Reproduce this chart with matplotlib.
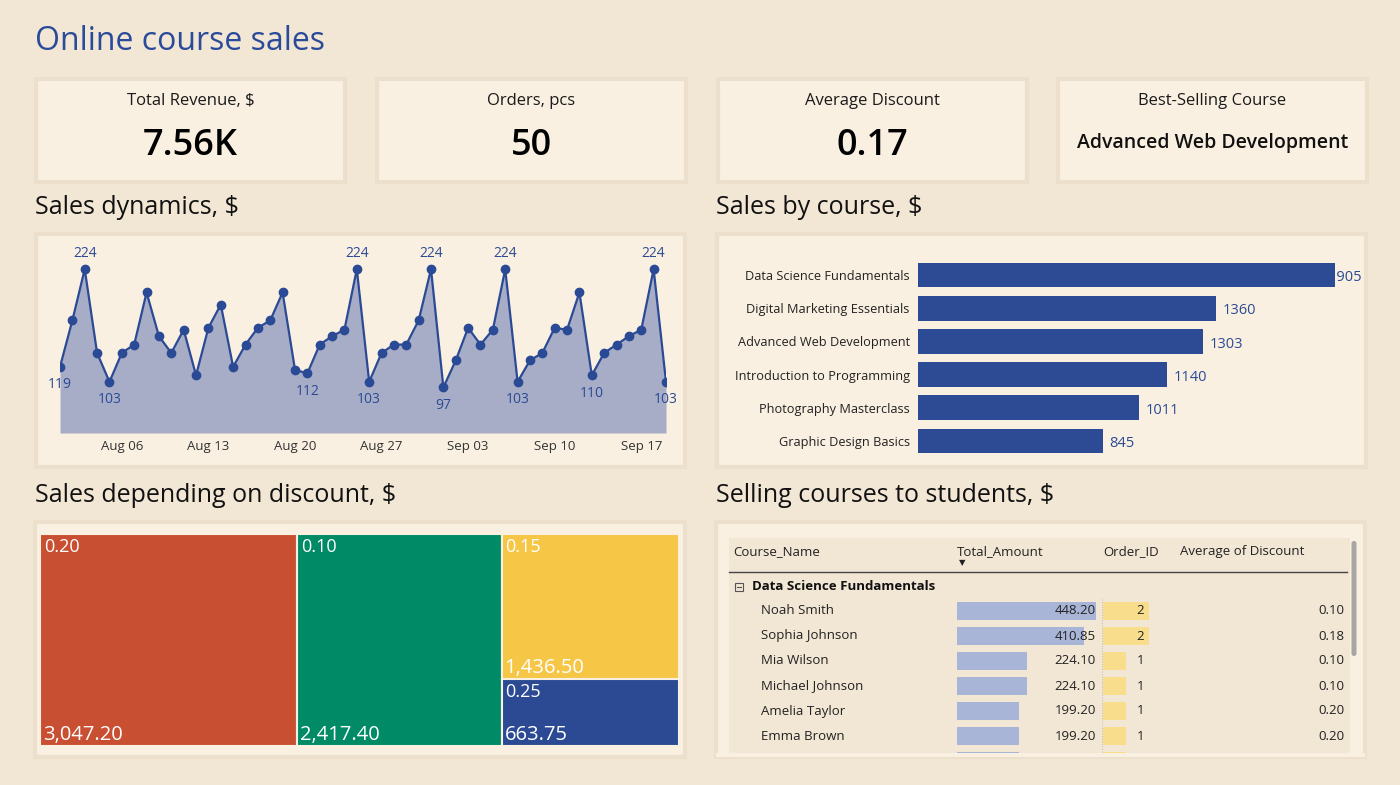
import numpy as np
import pandas as pd
import matplotlib
matplotlib.use("Agg")
import matplotlib.pyplot as plt
import matplotlib.dates as mdates
from matplotlib.patches import Rectangle, FancyBboxPatch

plt.rcParams['font.family'] = ['Open Sans', 'DejaVu Sans']

# ---- data ----
kpi_titles = ['Total Revenue, $', 'Orders, pcs', 'Average Discount', 'Best-Selling Course']
kpi_values = ['7.56K', '50', '0.17', 'Advanced Web Development']

dates = pd.date_range('2023-08-01', '2023-09-19', freq='D')
daily_sales = [119, 169, 224, 134, 103, 134, 143, 199, 152, 134,
               159, 110, 161, 186, 119, 143, 161, 169, 199, 116,
               112, 143, 152, 159, 224, 103, 134, 143, 143, 169,
               224, 97, 126, 161, 143, 159, 224, 103, 126, 134,
               161, 159, 199, 110, 134, 143, 152, 159, 224, 103]
labelled_days = [0, 2, 4, 20, 24, 25, 30, 31, 36, 37, 43, 48, 49]

courses = ['Data Science Fundamentals', 'Digital Marketing Essentials', 'Advanced Web Development',
           'Introduction to Programming', 'Photography Masterclass', 'Graphic Design Basics']
course_sales = [1905, 1360, 1303, 1140, 1011, 845]

discounts = ['0.20', '0.10', '0.15', '0.25']
discount_sales = [3047.20, 2417.40, 1436.50, 663.75]

table_group = 'Data Science Fundamentals'
students = ['Noah Smith', 'Sophia Johnson', 'Mia Wilson', 'Michael Johnson', 'Amelia Taylor', 'Emma Brown']
amounts = [448.20, 410.85, 224.10, 224.10, 199.20, 199.20, 199.20]
order_counts = [2, 2, 1, 1, 1, 1, 1]
avg_discount = [0.10, 0.18, 0.10, 0.10, 0.20, 0.20]

# ---- colours ----
BG = '#F2E6D5'
PANEL = '#F9F0E1'
EDGE = '#ECE0CD'
BLUE = '#2B4A95'
TITLE_BLUE = '#2A4A9A'
TM_COLORS = ['#C94F32', '#008A66', '#F6C646', '#2C4A93']

W, H = 1400, 785
fig = plt.figure(figsize=(W / 100, H / 100), dpi=100, facecolor=BG)

canvas = fig.add_axes([0, 0, 1, 1])
canvas.set_xlim(0, W)
canvas.set_ylim(H, 0)
canvas.axis('off')
canvas.set_zorder(0)


def px_axes(x0, y0, x1, y1):
    ax = fig.add_axes([x0 / W, 1 - y1 / H, (x1 - x0) / W, (y1 - y0) / H])
    ax.set_facecolor('none')
    ax.set_zorder(2)
    return ax


def panel(x0, y0, x1, y1):
    canvas.add_patch(Rectangle((x0, y0), x1 - x0, y1 - y0, facecolor=PANEL,
                               edgecolor=EDGE, linewidth=3))


# title
canvas.text(35, 41, 'Online course sales', color=TITLE_BLUE, fontsize=23, va='center', ha='left')

# KPI cards
kpi_boxes = [(36, 79, 345, 182), (377, 79, 686, 182), (718, 79, 1027, 182), (1058, 79, 1367, 182)]
for (x0, y0, x1, y1), t, v in zip(kpi_boxes, kpi_titles, kpi_values):
    panel(x0, y0, x1, y1)
    cx = (x0 + x1) / 2
    canvas.text(cx, 101, t, fontsize=12, ha='center', va='center', color='#1a1a1a')
    if len(v) > 8:
        canvas.text(cx, 143, v, fontsize=14, ha='center', va='center', weight='semibold', color='#111')
    else:
        canvas.text(cx, 146, v, fontsize=26, ha='center', va='center', weight='semibold', color='#000')

# section titles
for x, y, t in [(35, 208, 'Sales dynamics, $'), (716, 208, 'Sales by course, $'),
                (35, 495, 'Sales depending on discount, $'), (716, 495, 'Selling courses to students, $')]:
    canvas.text(x, y, t, fontsize=18, ha='left', va='center', color='#111')

# ---- line chart ----
panel(36, 234, 685, 467)
ax = px_axes(60, 245, 666, 433)
ax.fill_between(dates, daily_sales, 48, color='#A7ADC6', linewidth=0)
ax.plot(dates, daily_sales, color=BLUE, linewidth=1.6, marker='o', markersize=6)
for i in labelled_days:
    up = daily_sales[i] >= 200
    ax.annotate(str(daily_sales[i]), (dates[i], daily_sales[i]),
                xytext=(0, 11 if up else -13), textcoords='offset points',
                ha='center', va='center', fontsize=10, color=BLUE)
ax.set_xlim(dates[0], dates[-1])
ax.set_ylim(48, 250)
ax.xaxis.set_major_locator(mdates.WeekdayLocator(byweekday=mdates.SU))
ax.xaxis.set_major_formatter(mdates.DateFormatter('%b %d'))
ax.tick_params(axis='x', length=0, pad=5, labelsize=9.5, labelcolor='#333')
ax.set_yticks([])
for s in ax.spines.values():
    s.set_visible(False)

# ---- bar chart ----
panel(717, 234, 1366, 467)
bx = px_axes(918, 258.4, 1366, 457.6)
yy = np.arange(len(courses))
bx.barh(yy, course_sales, height=0.75, color='#2D4A94', zorder=3)
bx.set_xlim(0, 2047)
bx.set_ylim(len(courses) - 0.5, -0.5)
for i, v in enumerate(course_sales):
    # labels sit behind the bars, the top one slides back under its bar
    bx.text(min(v + 30, 1877), i + 0.08, str(v), ha='left', va='center', fontsize=10.5,
            color=BLUE, weight='medium', zorder=2)
bx.set_yticks(yy)
bx.set_yticklabels(courses)
bx.tick_params(axis='y', length=0, pad=6, labelsize=9.2, labelcolor='#222')
bx.set_xticks([])
for s in bx.spines.values():
    s.set_visible(False)

# ---- treemap ----
panel(35, 522, 685, 757)
tx = px_axes(40, 534, 679, 746)
tw, th = 639.0, 212.0
tx.set_xlim(0, tw)
tx.set_ylim(th, 0)
tx.axis('off')


def squarify(vals, x, y, w, h):
    total = sum(vals)
    vals = [v * w * h / total for v in vals]
    out = []

    def worst(row, length):
        s = sum(row)
        return max(max(length ** 2 * r / s ** 2, s ** 2 / (length ** 2 * r)) for r in row)

    while vals:
        length = min(w, h)
        row = [vals.pop(0)]
        while vals and worst(row + [vals[0]], length) <= worst(row, length):
            row.append(vals.pop(0))
        s = sum(row)
        if w >= h:
            cw = s / h
            yc = y
            for r in row:
                out.append((x, yc, cw, r / cw))
                yc += r / cw
            x += cw
            w -= cw
        else:
            rh = s / w
            xc = x
            for r in row:
                out.append((xc, y, r / rh, rh))
                xc += r / rh
            y += rh
            h -= rh
    return out


for (rx, ry, rw, rh), lab, val, col in zip(squarify(discount_sales, 0, 0, tw, th),
                                             discounts, discount_sales, TM_COLORS):
    tx.add_patch(Rectangle((rx, ry), rw, rh, facecolor=col, edgecolor=PANEL, linewidth=1.5))
    tx.text(rx + 4, ry + 4, lab, color='white', fontsize=13, ha='left', va='top')
    tx.text(rx + 3, ry + rh - 1, f'{val:,.2f}', color='white', fontsize=14.5, ha='left',
            va='bottom', weight='medium')

# ---- table ----
panel(716, 522, 1365, 757)
tb = px_axes(716, 522, 1365, 757)
tb.set_xlim(716, 1365)
tb.set_ylim(757, 522)
tb.axis('off')
tb.add_patch(Rectangle((729, 538), 621, 219, facecolor='#F2E6D4', edgecolor='none'))
tb.plot([729, 1347], [572, 572], color='#444', linewidth=1)
hdr_y = 552
tb.text(733, hdr_y, 'Course_Name', fontsize=9.5, va='center', color='#222')
tb.text(957, hdr_y, 'Total_Amount', fontsize=9.5, va='center', color='#222')
tb.text(1103, hdr_y, 'Order_ID', fontsize=9.5, va='center', color='#222')
tb.text(1180, hdr_y, 'Average of Discount', fontsize=9.5, va='center', color='#222')
tb.text(962, 564, '\u25BC', fontsize=6, ha='center', va='center', color='#222')
tb.add_patch(Rectangle((735, 583), 8, 8, facecolor='none', edgecolor='#555', linewidth=0.8))
tb.plot([737, 741], [587, 587], color='#555', linewidth=0.8)
tb.text(752, 587, table_group, fontsize=9.5, va='center', weight='bold', color='#111')
tb.plot([1102, 1102], [599, 757], color='#BBB', linewidth=0.7, linestyle=':')

amt_scale = 139 / max(amounts)
ord_scale = 23.0
row_y = 611 + 25 * np.arange(len(amounts))
tb.barh(row_y, [a * amt_scale for a in amounts], left=957, height=18, color='#A9B5D7')
tb.barh(row_y, [o * ord_scale for o in order_counts], left=1103, height=18, color='#F8DD8C')
for i, name in enumerate(students):
    y = row_y[i]
    tb.text(761, y, name, fontsize=9.5, va='center', color='#222')
    tb.text(1096, y, f'{amounts[i]:.2f}', fontsize=9.5, va='center', ha='right', color='#222')
    tb.text(1144, y, str(order_counts[i]), fontsize=9.5, va='center', ha='right', color='#222')
    tb.text(1344, y, f'{avg_discount[i]:.2f}', fontsize=9.5, va='center', ha='right', color='#222')
# scrollbar
tb.add_patch(FancyBboxPatch((1351.5, 541), 5, 115, boxstyle='round,pad=0,rounding_size=2.5',
                            facecolor='#A8A6A2', edgecolor='none'))
tb.add_patch(Rectangle((716, 753), 649, 4, facecolor=PANEL, edgecolor='none', zorder=5))

fig.savefig('out.png', dpi=100, facecolor=BG)
